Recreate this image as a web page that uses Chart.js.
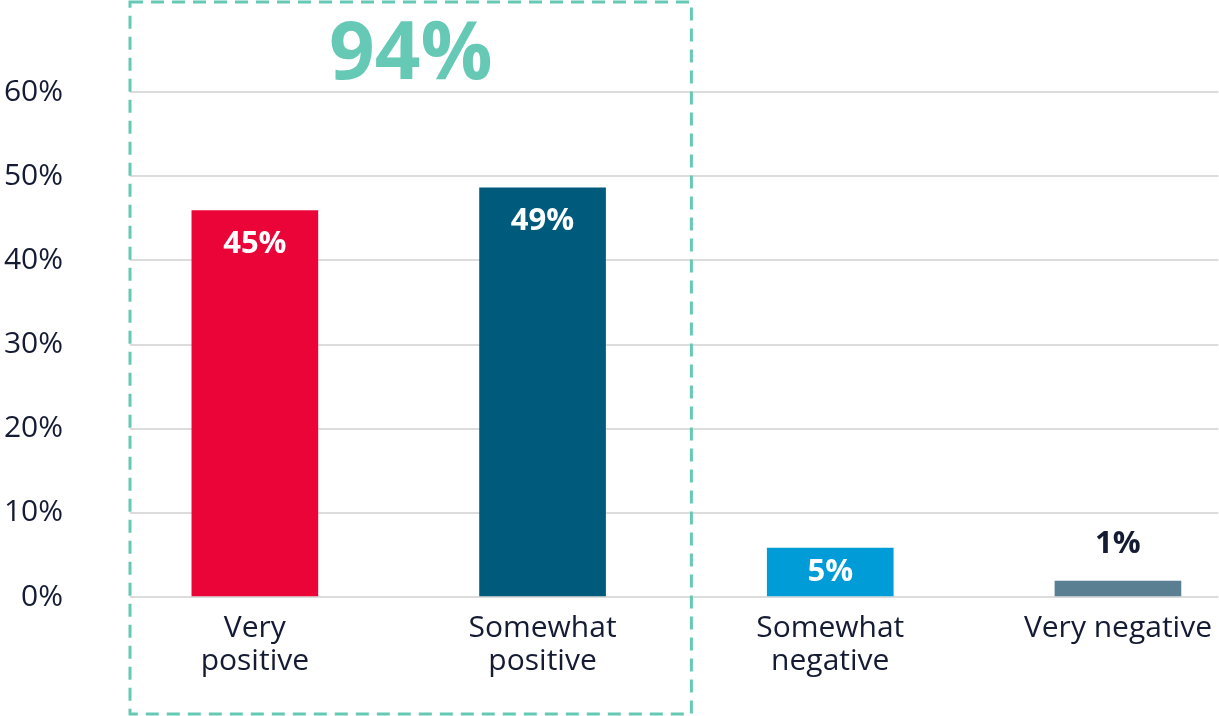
<!DOCTYPE html>
<html>
<head>
<meta charset="utf-8">
<script src="https://cdn.jsdelivr.net/npm/chart.js@4"></script>
<style>
  html, body { margin: 0; padding: 0; background: #fff; }
  #wrap { width: 1219px; height: 716px; }
</style>
</head>
<body>
<div id="wrap"><canvas id="sentimentChart"></canvas></div>
<script>
const categories = [['Very', 'positive'], ['Somewhat', 'positive'], ['Somewhat', 'negative'], 'Very negative'];
const values = [45.9, 48.6, 5.8, 1.9];
const valueLabels = ['45%', '49%', '5%', '1%'];
const barColors = ['#ea0437', '#005a7c', '#009cd8', '#5a7e92'];
const yTicks = [0, 10, 20, 30, 40, 50, 60];
const positiveTotal = '94%';

const textColor = '#141b33';
const teal = '#66c9b5';

// dashed box round the two positive bars, with the total above
const positiveBox = {
  id: 'positiveBox',
  afterDraw(chart) {
    const { ctx, chartArea, scales } = chart;
    const left = chartArea.left;
    const right = scales.x.getPixelForValue(1.5) + 5;
    ctx.save();
    ctx.strokeStyle = teal;
    ctx.lineWidth = 3;
    ctx.setLineDash([13, 8]);
    ctx.strokeRect(left, 2, right - left, 712);
    ctx.setLineDash([]);
    ctx.fillStyle = teal;
    ctx.font = 'bold 80px "Open Sans"';
    ctx.textAlign = 'center';
    ctx.textBaseline = 'alphabetic';
    ctx.fillText(positiveTotal, (left + right) / 2, 79);
    ctx.restore();
  }
};

// value labels: inside the top of tall bars, centred in short ones, above tiny ones
const barLabels = {
  id: 'barLabels',
  afterDatasetsDraw(chart) {
    const { ctx } = chart;
    const meta = chart.getDatasetMeta(0);
    ctx.save();
    ctx.font = 'bold 31px "Open Sans"';
    ctx.textAlign = 'center';
    ctx.textBaseline = 'middle';
    meta.data.forEach((bar, i) => {
      const h = bar.base - bar.y;
      let y;
      if (h > 90) {
        ctx.fillStyle = '#fff';
        y = bar.y + 33;
      } else if (h > 35) {
        ctx.fillStyle = '#fff';
        y = bar.y + h / 2;
      } else {
        ctx.fillStyle = textColor;
        y = bar.y - 37;
      }
      ctx.fillText(valueLabels[i], bar.x, y);
    });
    ctx.restore();
  }
};

new Chart(document.getElementById('sentimentChart'), {
  type: 'bar',
  data: {
    datasets: [{
      data: values.map((v, i) => ({ x: i, y: v })),
      backgroundColor: barColors,
      barThickness: 126
    }]
  },
  options: {
    responsive: true,
    maintainAspectRatio: false,
    animation: false,
    layout: { padding: { top: 92, bottom: 31, left: 0, right: 0 } },
    plugins: {
      legend: { display: false },
      tooltip: { enabled: false }
    },
    scales: {
      x: {
        type: 'linear',
        offset: false,
        min: -0.434,
        max: 3.349,
        afterBuildTicks: (scale) => {
          scale.ticks = categories.map((_, i) => ({ value: i }));
        },
        grid: { display: false },
        border: { display: false },
        ticks: {
          autoSkip: false,
          maxRotation: 0,
          padding: 7,
          color: textColor,
          font: { family: 'Open Sans', size: 30, lineHeight: 1.1 },
          callback: (v) => categories[v]
        }
      },
      y: {
        min: 0,
        max: 60,
        afterBuildTicks: (scale) => {
          scale.ticks = yTicks.map(v => ({ value: v }));
        },
        afterFit: (scale) => { scale.width = 130; },
        grid: { color: '#dcdcdc', lineWidth: 2, drawTicks: false },
        border: { display: false },
        ticks: {
          padding: 67,
          color: textColor,
          font: { family: 'Open Sans', size: 30 },
          callback: (v) => v + '%'
        }
      }
    }
  },
  plugins: [positiveBox, barLabels]
});
</script>
</body>
</html>
